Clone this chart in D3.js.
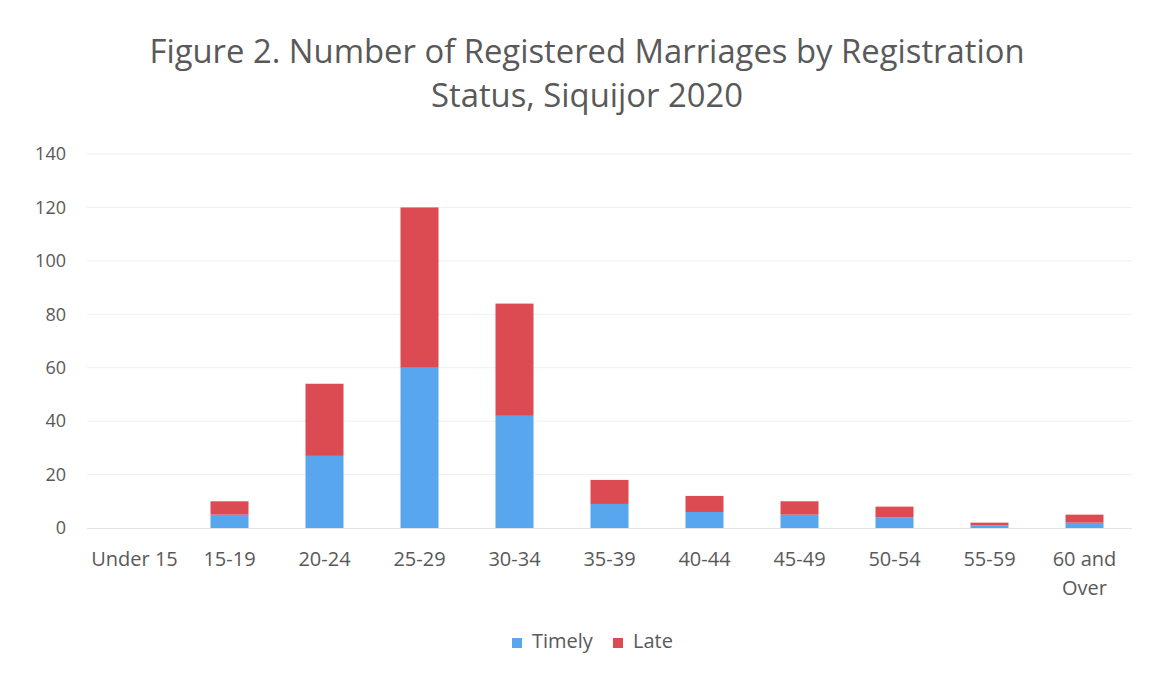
<!DOCTYPE html>
<html><head><meta charset="utf-8">
<script src="https://cdn.jsdelivr.net/npm/d3@7"></script>
<style>body{margin:0;background:#fff}</style>
</head><body>
<svg id="c" width="1154" height="674"></svg>
<script>
const categories = ["Under 15","15-19","20-24","25-29","30-34","35-39","40-44","45-49","50-54","55-59","60 and Over"];
const timely = [0,5,27,60,42,9,6,5,4,1,2];
const late   = [0,5,27,60,42,9,6,5,4,1,3];
const yTicks = [0,20,40,60,80,100,120,140];
const seriesNames = ["Timely","Late"];
const colors = ["#58a6ee","#dc4a52"];
const titleLines = ["Figure 2. Number of Registered Marriages by Registration","Status, Siquijor 2020"];

const svg = d3.select("#c");
const font = "'Open Sans', sans-serif";
const margin = {left:87, right:1132, top:154, bottom:528};

const x = d3.scaleBand().domain(categories).range([margin.left, margin.right]).paddingInner(0.6).paddingOuter(0.3);
const y = d3.scaleLinear().domain([0,140]).range([margin.bottom, margin.top]);

// title
svg.append("g").selectAll("text").data(titleLines).join("text")
  .attr("x", 587).attr("y",(d,i)=>63+i*44)
  .attr("text-anchor","middle").attr("fill","#595959")
  .style("font-family",font).style("font-size","32.8px").text(d=>d);

// grid
svg.append("g").selectAll("line").data(yTicks.filter(d=>d>0)).join("line")
  .attr("x1",margin.left).attr("x2",margin.right)
  .attr("y1",d=>y(d)).attr("y2",d=>y(d))
  .attr("stroke","#efefef").attr("stroke-width",1);

// y axis
const yAxis = d3.axisLeft(y).tickValues(yTicks).tickSize(0).tickPadding(0);
const gy = svg.append("g").attr("transform","translate(66,0)").call(yAxis);
gy.select(".domain").remove();
gy.selectAll("text").attr("fill","#595959").style("font-family",font).style("font-size","18px");

// stacked bars
const data = categories.map((c,i)=>({cat:c, Timely:timely[i], Late:late[i]}));
const stacked = d3.stack().keys(seriesNames)(data);
svg.append("g").selectAll("g").data(stacked).join("g")
  .attr("fill",(d,i)=>colors[i])
  .selectAll("rect").data(d=>d).join("rect")
  .attr("x",d=>x(d.data.cat)).attr("width",x.bandwidth())
  .attr("y",d=>y(d[1])).attr("height",d=>y(d[0])-y(d[1]));

// baseline
svg.append("line").attr("x1",margin.left).attr("x2",margin.right)
  .attr("y1",y(0)+0.5).attr("y2",y(0)+0.5).attr("stroke","#e3e3e3");

// x axis
const xAxis = d3.axisBottom(x).tickSize(0).tickPadding(0).tickFormat("");
const gx = svg.append("g").attr("transform",`translate(0,${y(0)})`).call(xAxis);
gx.select(".domain").remove();
gx.selectAll(".tick").each(function(d){
  const t = d3.select(this);
  const lines = d==="60 and Over" ? ["60 and","Over"] : [d];
  lines.forEach((l,i)=>t.append("text").attr("y",38+i*29).attr("text-anchor","middle")
    .attr("fill","#595959").style("font-family",font).style("font-size","20px").text(l));
});

// legend
const leg = svg.append("g");
const legItems = [{n:"Timely",c:colors[0],x:512},{n:"Late",c:colors[1],x:613}];
legItems.forEach(it=>{
  leg.append("rect").attr("x",it.x).attr("y",638).attr("width",10).attr("height",10).attr("fill",it.c);
  leg.append("text").attr("x",it.x+20).attr("y",648).attr("fill","#595959")
    .style("font-family",font).style("font-size","20px").text(it.n);
});
</script>
</body></html>
